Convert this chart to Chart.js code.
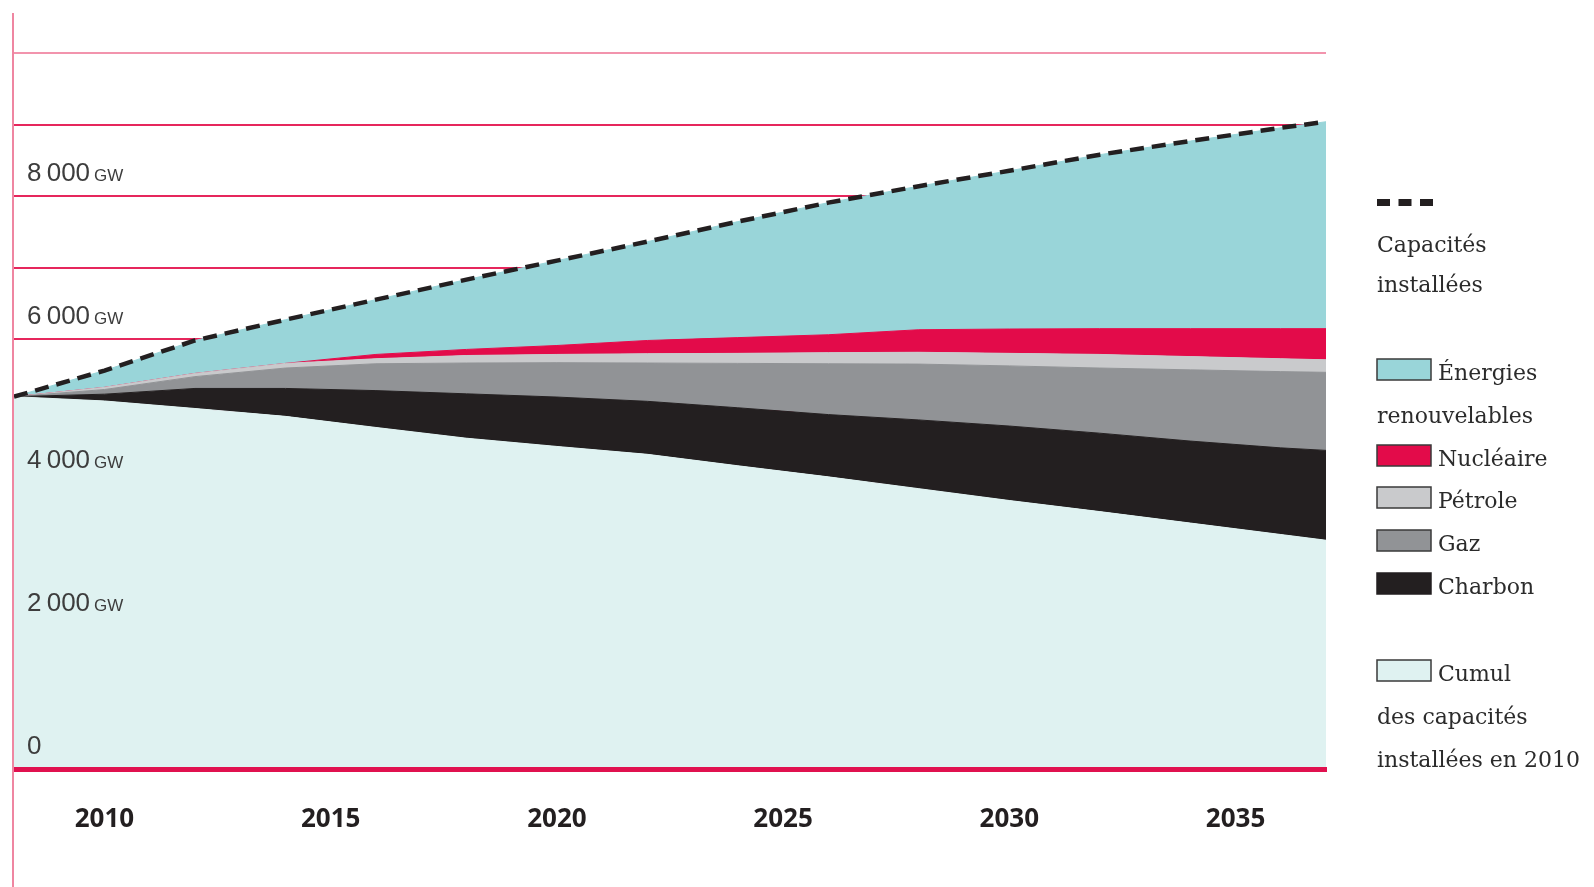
<!DOCTYPE html>
<html lang="fr">
<head>
<meta charset="utf-8">
<title>Capacités installées</title>
<script src="https://cdn.jsdelivr.net/npm/chart.js@4/dist/chart.umd.min.js"></script>
<style>
    html, body { margin: 0; padding: 0; background: #fff; }
    #wrap { position: relative; width: 1594px; height: 887px; }
</style>
</head>
<body>
<div id="wrap"><canvas id="capacites"></canvas></div>
<script>
const years = [2008, 2010, 2012, 2014, 2016, 2018, 2020, 2022, 2024, 2026, 2028, 2030, 2032, 2034, 2036, 2037];

// GW
const cumul2010     = [5200, 5140, 5035, 4925, 4770, 4620, 4505, 4395, 4235, 4080, 3915, 3750, 3595, 3435, 3275, 3195];
const charbon       = [0, 95, 280, 390, 515, 620, 690, 740, 810, 870, 960, 1040, 1095, 1145, 1210, 1255];
const gaz           = [0, 65, 165, 285, 375, 430, 480, 535, 620, 710, 780, 840, 910, 995, 1065, 1090];
const petrole       = [0, 30, 45, 65, 70, 105, 115, 130, 140, 155, 165, 175, 190, 185, 180, 175];
const nucleaire     = [0, 0, 0, 0, 60, 85, 125, 185, 220, 250, 315, 340, 360, 390, 420, 435];
const renouvelables = [0, 235, 460, 610, 765, 975, 1185, 1380, 1620, 1845, 2005, 2210, 2430, 2620, 2805, 2890];
const capacitesInstallees = [5200, 5565, 5985, 6275, 6555, 6835, 7100, 7365, 7645, 7910, 8140, 8355, 8580, 8770, 8955, 9040];

const xTicks = [2010, 2015, 2020, 2025, 2030, 2035];
const yTicks = [0, 2000, 4000, 6000, 8000];

const seriesNames = ['Cumul des capacités installées en 2010', 'Charbon', 'Gaz', 'Pétrole', 'Nucléaire', 'Énergies renouvelables'];
const seriesValues = [cumul2010, charbon, gaz, petrole, nucleaire, renouvelables];
const seriesColors = ['#dff2f1', '#231f20', '#919396', '#c9cacc', '#e30b4a', '#99d5d9'];

// legend text as it is broken in the picture
const legendLines = {
    total: ['Capacités', 'installées'],
    5: ['Énergies', 'renouvelables'],
    4: ['Nucléaire'],
    3: ['Pétrole'],
    2: ['Gaz'],
    1: ['Charbon'],
    0: ['Cumul', 'des capacités', 'installées en 2010']
};

function points(vals) {
    return years.map((x, i) => ({ x: x, y: vals[i] }));
}

const datasets = seriesValues.map((vals, i) => ({
    label: seriesNames[i],
    data: points(vals),
    backgroundColor: seriesColors[i],
    borderColor: seriesColors[i],
    borderWidth: 1,
    pointRadius: 0,
    tension: 0,
    fill: i === 0 ? 'origin' : '-1',
    stack: 'parc'
}));
datasets.push({
    label: 'Capacités installées',
    data: points(capacitesInstallees),
    borderColor: '#231f20',
    borderWidth: 4.5,
    borderDash: [14, 8],
    pointRadius: 0,
    fill: false,
    stack: 'total',
    order: -1
});

function formatGW(v) {
    if (v < 1000) return String(v);
    return Math.floor(v / 1000) + '\u2009' + String(v % 1000).padStart(3, '0');
}

const yLabels = {
    id: 'yLabels',
    afterDatasetsDraw(chart) {
        const ctx = chart.ctx;
        const y = chart.scales.y;
        const area = chart.chartArea;
        ctx.save();
        // thick rule at zero, over the fills
        ctx.strokeStyle = '#e0114f';
        ctx.lineWidth = 5;
        ctx.beginPath();
        ctx.moveTo(13, y.getPixelForValue(0) + 0.5);
        ctx.lineTo(area.right + 1, y.getPixelForValue(0) + 0.5);
        ctx.stroke();

        ctx.fillStyle = '#3d3d3d';
        ctx.textBaseline = 'alphabetic';
        yTicks.forEach(v => {
            const py = y.getPixelForValue(v) - 15;
            const txt = formatGW(v);
            ctx.font = '26px "Liberation Sans"';
            ctx.fillText(txt, 27, py);
            if (v !== 0) {
                const w = ctx.measureText(txt).width;
                ctx.font = '17px "Liberation Sans"';
                ctx.fillText('GW', 27 + w + 4, py);
            }
        });
        ctx.restore();
    }
};

const frameAndLegend = {
    id: 'frameAndLegend',
    afterDraw(chart) {
        const ctx = chart.ctx;
        ctx.save();
        // pink rule on the left
        ctx.strokeStyle = '#ef86a1';
        ctx.lineWidth = 2;
        ctx.beginPath();
        ctx.moveTo(13, 13);
        ctx.lineTo(13, 887);
        ctx.stroke();

        const lx = 1377;
        ctx.font = '22px "DejaVu Serif"';
        ctx.fillStyle = '#2b2b2b';
        ctx.textBaseline = 'alphabetic';

        // dashed sample
        ctx.strokeStyle = '#231f20';
        ctx.lineWidth = 7;
        ctx.setLineDash([13, 8.5]);
        ctx.beginPath();
        ctx.moveTo(lx, 202.5);
        ctx.lineTo(lx + 56, 202.5);
        ctx.stroke();
        ctx.setLineDash([]);
        legendLines.total.forEach((t, k) => ctx.fillText(t, lx, 252 + k * 40));

        const baselines = { 5: 380, 4: 466, 3: 508, 2: 551, 1: 594, 0: 681 };
        [5, 4, 3, 2, 1, 0].forEach(i => {
            const b = baselines[i];
            ctx.fillStyle = seriesColors[i];
            ctx.fillRect(lx, b - 21, 54, 21);
            ctx.strokeStyle = i === 1 ? '#231f20' : '#3a3a3a';
            ctx.lineWidth = 1.5;
            ctx.strokeRect(lx, b - 21, 54, 21);
            ctx.fillStyle = '#2b2b2b';
            legendLines[i].forEach((t, k) => {
                ctx.fillText(t, k === 0 ? lx + 61 : lx, b + k * 43);
            });
        });
        ctx.restore();
    }
};

new Chart(document.getElementById('capacites'), {
    type: 'line',
    data: { datasets: datasets },
    options: {
        responsive: true,
        maintainAspectRatio: false,
        animation: false,
        layout: { padding: { left: 14, right: 268, top: 53, bottom: 0 } },
        plugins: {
            legend: { display: false },
            tooltip: { enabled: false }
        },
        scales: {
            x: {
                type: 'linear',
                min: 2008,
                max: 2037,
                afterBuildTicks: s => { s.ticks = xTicks.map(v => ({ value: v })); },
                afterFit: s => { s.height = 118; },
                ticks: {
                    color: '#231f20',
                    padding: 35,
                    maxRotation: 0,
                    autoSkip: false,
                    font: { family: '"Open Sans"', weight: 'bold', size: 26 },
                    callback: v => String(v)
                },
                grid: { display: false, drawTicks: false },
                border: { display: false }
            },
            y: {
                stacked: true,
                min: 0,
                max: 10000,
                afterFit: s => { s.width = 0; },
                ticks: { display: false, stepSize: 1000 },
                grid: {
                    drawTicks: false,
                    lineWidth: 2,
                    color: c => c.tick.value === 10000 ? '#f294ad' : (c.tick.value === 0 ? 'rgba(0,0,0,0)' : '#e6265c')
                },
                border: { display: false }
            }
        }
    },
    plugins: [yLabels, frameAndLegend]
});
</script>
</body>
</html>
